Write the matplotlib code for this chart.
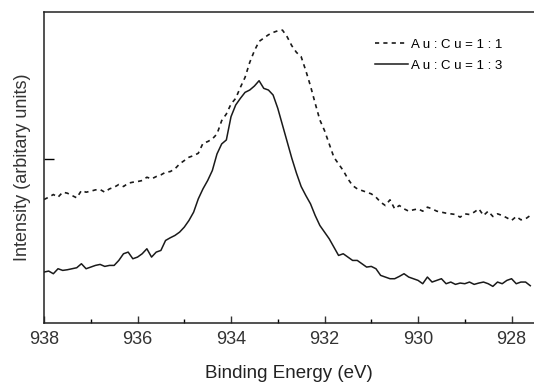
import matplotlib
matplotlib.use("Agg")
import matplotlib.pyplot as plt
from matplotlib.ticker import MultipleLocator

plt.rcParams['font.family'] = ['Liberation Sans', 'DejaVu Sans']

# binding energy grid (eV)
energy = [938.0, 937.9, 937.8, 937.7, 937.6, 937.5, 937.4, 937.3, 937.2, 937.1,
          937.0, 936.9, 936.8, 936.7, 936.6, 936.5, 936.4, 936.3, 936.2, 936.1,
          936.0, 935.9, 935.8, 935.7, 935.6, 935.5, 935.4, 935.3, 935.2, 935.1,
          935.0, 934.9, 934.8, 934.7, 934.6, 934.5, 934.4, 934.3, 934.2, 934.1,
          934.0, 933.9, 933.8, 933.7, 933.6, 933.5, 933.4, 933.3, 933.2, 933.1,
          933.0, 932.9, 932.8, 932.7, 932.6, 932.5, 932.4, 932.3, 932.2, 932.1,
          932.0, 931.9, 931.8, 931.7, 931.6, 931.5, 931.4, 931.3, 931.2, 931.1,
          931.0, 930.9, 930.8, 930.7, 930.6, 930.5, 930.4, 930.3, 930.2, 930.1,
          930.0, 929.9, 929.8, 929.7, 929.6, 929.5, 929.4, 929.3, 929.2, 929.1,
          929.0, 928.9, 928.8, 928.7, 928.6, 928.5, 928.4, 928.3, 928.2, 928.1,
          928.0, 927.9, 927.8, 927.7, 927.6]

# Au:Cu = 1:1 (dashed)
int_11 = [371, 378, 386, 378, 393, 390, 383, 376, 398, 393,
          396, 400, 401, 393, 403, 408, 416, 410, 420, 423,
          425, 428, 438, 433, 440, 445, 453, 455, 463, 478,
          488, 498, 503, 510, 540, 545, 553, 568, 608, 628,
          658, 675, 708, 738, 783, 818, 846, 856, 866, 873,
          878, 880, 860, 833, 813, 800, 758, 712, 660, 610,
          578, 538, 498, 478, 458, 433, 413, 403, 398, 393,
          388, 378, 363, 353, 370, 343, 353, 343, 336, 340,
          343, 336, 348, 343, 336, 333, 330, 328, 326, 318,
          328, 326, 333, 343, 323, 336, 320, 328, 323, 316,
          308, 320, 310, 313, 323]

# Au:Cu = 1:3 (solid)
int_13 = [153, 156, 148, 163, 158, 160, 163, 166, 178, 163,
          168, 173, 176, 170, 173, 173, 188, 208, 213, 193,
          198, 208, 223, 198, 213, 218, 248, 256, 263, 273,
          288, 308, 333, 373, 403, 428, 458, 508, 538, 550,
          620, 655, 675, 693, 700, 712, 728, 705, 700, 685,
          645, 595, 545, 495, 450, 410, 383, 358, 323, 293,
          273, 253, 228, 203, 208, 198, 188, 188, 178, 168,
          170, 163, 143, 138, 133, 133, 140, 148, 138, 133,
          128, 118, 138, 123, 128, 133, 118, 123, 116, 120,
          118, 123, 116, 120, 123, 118, 110, 123, 118, 128,
          133, 118, 123, 123, 112]

labels = ['A u : C u = 1 : 1', 'A u : C u = 1 : 3']

fig = plt.figure(figsize=(5.34, 3.83), dpi=100)
ax = fig.add_axes([0.0824, 0.1567, 0.9176, 0.8107])

ax.plot(energy, int_11, color='#1a1a1a', lw=1.2, dashes=(2.5, 2.5), label=labels[0])
ax.plot(energy, int_13, color='#1a1a1a', lw=1.1, label=labels[1])

ax.set_xlim(938, 927.52)
ax.set_ylim(0, 933)
ax.xaxis.set_major_locator(MultipleLocator(2))
ax.xaxis.set_minor_locator(MultipleLocator(1))
ax.set_yticks([493])
ax.set_yticklabels([])
ax.tick_params(axis='x', which='major', direction='in', length=5, width=1,
               labelsize=13, pad=6, colors='#333333')
ax.tick_params(axis='x', which='minor', direction='in', length=3, width=1)
ax.tick_params(axis='y', direction='in', length=7, width=1)
for s in ['left', 'top', 'bottom']:
    ax.spines[s].set_linewidth(1.1)
    ax.spines[s].set_color('#222222')
ax.spines['right'].set_visible(False)

ax.set_xlabel('Binding Energy (eV)', fontsize=13.5, color='#222222', labelpad=12)
ax.set_ylabel('Intensity (arbitary units)', fontsize=13, color='#333333', labelpad=6)

ax.legend(loc='upper left', bbox_to_anchor=(0.6755, 0.915), frameon=False,
          fontsize=9.5, handlelength=2.5, handletextpad=0.2, labelspacing=0.65,
          borderpad=0, borderaxespad=0)

fig.savefig('out.png', dpi=100)
